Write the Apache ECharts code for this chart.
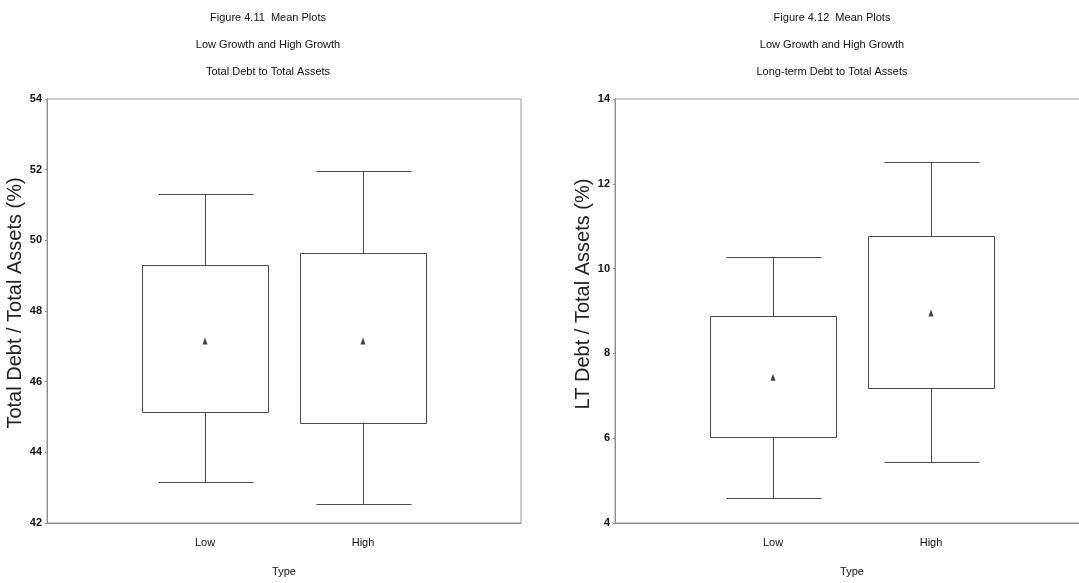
<!DOCTYPE html>
<html>
<head>
<meta charset="utf-8">
<title>Mean Plots</title>
<script src="https://cdn.jsdelivr.net/npm/echarts@6/dist/echarts.min.js"></script>
<style>
  html, body { margin: 0; padding: 0; background: #fff; }
  #chart { width: 1079px; height: 583px; }
</style>
</head>
<body>
<div id="chart"></div>
<script>
// Group categories (x positions 1 and 2)
const types = ['Low', 'High'];

// Figure 4.11: Total Debt / Total Assets (%)
const tdLower = [43.15, 42.55];
const tdQ1    = [45.15, 44.85];
const tdQ3    = [49.30, 49.65];
const tdUpper = [51.30, 51.97];
const tdMean  = [47.15, 47.15];

// Figure 4.12: LT Debt / Total Assets (%)
const ltLower = [4.60, 5.44];
const ltQ1    = [6.03, 7.18];
const ltQ3    = [8.88, 10.77];
const ltUpper = [10.28, 12.52];
const ltMean  = [7.44, 8.95];

// Titles
const titlesA = ['Figure 4.11  Mean Plots', 'Low Growth and High Growth', 'Total Debt to Total Assets'];
const titlesB = ['Figure 4.12  Mean Plots', 'Low Growth and High Growth', 'Long-term Debt to Total Assets'];

const NARROW = '"Liberation Sans Narrow", "Arial Narrow", "Liberation Sans", sans-serif';
const SANS = '"Liberation Sans", Arial, sans-serif';
const INK = '#4a4a4a';
const FRAME = '#8c8c8c';

function boxRows(lower, q1, q3, upper) {
  return types.map((t, i) => [i + 1, lower[i], q1[i], q3[i], upper[i]]);
}
function meanRows(mean) {
  return types.map((t, i) => [i + 1, mean[i]]);
}

// Box with whiskers and caps, drawn through the axis scales
function renderBox(params, api) {
  const x = api.value(0);
  const pLo = api.coord([x, api.value(1)]);
  const pQ1 = api.coord([x, api.value(2)]);
  const pQ3 = api.coord([x, api.value(3)]);
  const pHi = api.coord([x, api.value(4)]);
  const unit = api.size([1, 0])[0];
  const boxW = unit * 0.8;
  const capW = unit * 0.6;
  const cx = Math.round(pQ1[0]) + 0.5;
  const r = v => Math.round(v) + 0.5;
  const lineStyle = { stroke: INK, lineWidth: 1, fill: null };
  return {
    type: 'group',
    children: [
      { type: 'rect', shape: { x: r(cx - boxW / 2), y: r(pQ3[1]), width: Math.round(boxW), height: Math.round(pQ1[1] - pQ3[1]) },
        style: { stroke: INK, lineWidth: 1, fill: '#fff' } },
      { type: 'line', shape: { x1: cx, y1: r(pQ3[1]), x2: cx, y2: r(pHi[1]) }, style: lineStyle },
      { type: 'line', shape: { x1: r(cx - capW / 2), y1: r(pHi[1]), x2: r(cx + capW / 2), y2: r(pHi[1]) }, style: lineStyle },
      { type: 'line', shape: { x1: cx, y1: r(pQ1[1]), x2: cx, y2: r(pLo[1]) }, style: lineStyle },
      { type: 'line', shape: { x1: r(cx - capW / 2), y1: r(pLo[1]), x2: r(cx + capW / 2), y2: r(pLo[1]) }, style: lineStyle }
    ]
  };
}

function titleBlock(lines, cx) {
  return lines.map((txt, i) => ({
    type: 'text',
    x: cx, y: 18 + i * 27,
    style: { text: txt, fill: '#111', font: '11px ' + NARROW, textAlign: 'center', textVerticalAlign: 'middle' }
  }));
}

function xAxisDef(gridIndex) {
  return {
    type: 'value', gridIndex, min: 0, max: 3, interval: 1,
    name: 'Type', nameLocation: 'middle', nameGap: 43,
    nameTextStyle: { fontFamily: NARROW, fontSize: 11, color: '#111' },
    axisLine: { show: true, lineStyle: { color: FRAME, width: 1 } },
    axisTick: { show: false },
    splitLine: { show: false },
    axisLabel: {
      margin: 14, fontFamily: NARROW, fontSize: 11, color: '#111',
      formatter: v => types[v - 1] || ''
    }
  };
}

function yAxisDef(gridIndex, min, max, name, lift) {
  return {
    type: 'value', gridIndex, min, max, interval: 2,
    name, nameLocation: 'middle', nameGap: 15,
    nameTextStyle: { fontFamily: SANS, fontSize: 20, color: '#222', padding: [0, 0, 0, lift] },
    axisLine: { show: true, lineStyle: { color: FRAME, width: 1 } },
    axisTick: { show: true, length: 2, lineStyle: { color: FRAME } },
    splitLine: { show: false },
    axisLabel: { margin: 5, fontFamily: NARROW, fontSize: 11, fontWeight: 'bold', color: '#111' }
  };
}

const chart = echarts.init(document.getElementById('chart'), null, { renderer: 'canvas' });

chart.setOption({
  backgroundColor: '#fff',
  animation: false,
  graphic: [...titleBlock(titlesA, 268), ...titleBlock(titlesB, 832)],
  grid: [
    { left: 47, top: 99, width: 474, height: 424, outerBoundsMode: 'none',
      show: true, borderColor: '#9a9a9a', borderWidth: 1 },
    // the right panel runs past the page edge
    { left: 615, top: 99, width: 474, height: 424, outerBoundsMode: 'none',
      show: true, borderColor: '#9a9a9a', borderWidth: 1 }
  ],
  xAxis: [xAxisDef(0), xAxisDef(1)],
  yAxis: [
    yAxisDef(0, 42, 54, 'Total Debt / Total Assets (%)', 16),
    yAxisDef(1, 4, 14, 'LT Debt / Total Assets (%)', 34)
  ],
  series: [
    { type: 'custom', xAxisIndex: 0, yAxisIndex: 0, renderItem: renderBox,
      encode: { x: 0, y: [1, 2, 3, 4] }, data: boxRows(tdLower, tdQ1, tdQ3, tdUpper) },
    { type: 'scatter', xAxisIndex: 0, yAxisIndex: 0, symbol: 'triangle', symbolSize: [5, 7],
      itemStyle: { color: '#111' }, data: meanRows(tdMean), z: 5 },
    { type: 'custom', xAxisIndex: 1, yAxisIndex: 1, renderItem: renderBox,
      encode: { x: 0, y: [1, 2, 3, 4] }, data: boxRows(ltLower, ltQ1, ltQ3, ltUpper) },
    { type: 'scatter', xAxisIndex: 1, yAxisIndex: 1, symbol: 'triangle', symbolSize: [5, 7],
      itemStyle: { color: '#111' }, data: meanRows(ltMean), z: 5 }
  ]
});
</script>
</body>
</html>
